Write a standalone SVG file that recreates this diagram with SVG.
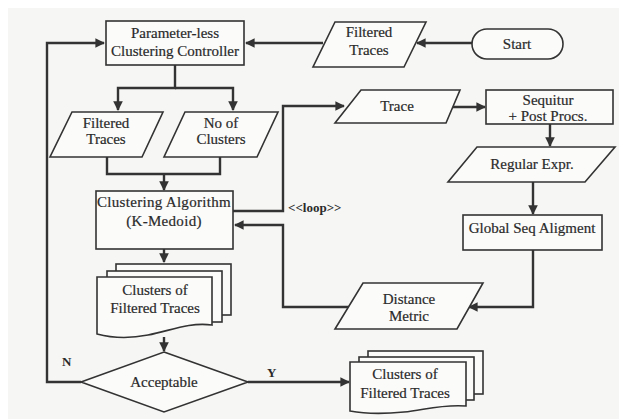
<svg xmlns="http://www.w3.org/2000/svg" width="619" height="419" viewBox="0 0 619 419">
<defs>
<marker id="ah" viewBox="0 0 10 10" refX="9" refY="5" markerWidth="4" markerHeight="4" orient="auto" markerUnits="strokeWidth">
<path d="M0,0 L10,5 L0,10 Z" fill="#333"/>
</marker>
<style>
.shape{fill:#fbfbfa;stroke:#333;stroke-width:1.6}
.conn{fill:none;stroke:#333;stroke-width:2.4}
.t{font-family:'Liberation Serif','DejaVu Serif',serif;font-size:15px;fill:#2a2a2a;stroke:#2a2a2a;stroke-width:0.2;text-anchor:middle}
.lbl{font-family:'Liberation Serif','DejaVu Serif',serif;font-size:13px;font-weight:bold;fill:#2a2a2a}
</style>
</defs>
<rect x="0" y="0" width="619" height="419" fill="#ffffff"/>
<rect x="8" y="8" width="611" height="411" fill="#f6f6f4"/>

<g id="connectors">
<path class="conn" d="M323,43 H246" marker-end="url(#ah)"/>
<path class="conn" d="M472,43 H417" marker-end="url(#ah)"/>
<path class="conn" d="M175,65 V88 H118 V110"  marker-end="url(#ah)"/>
<path class="conn" d="M175,88 H233 V110" marker-end="url(#ah)"/>
<path class="conn" d="M107,157 V174 H220 V157"/>
<path class="conn" d="M164,174 V190" marker-end="url(#ah)"/>
<path class="conn" d="M233,211 H283 V106 H344" marker-end="url(#ah)"/>
<path class="conn" d="M452,107 H485" marker-end="url(#ah)"/>
<path class="conn" d="M550,124 V146" marker-end="url(#ah)"/>
<path class="conn" d="M533,182 V214" marker-end="url(#ah)"/>
<path class="conn" d="M533,250 V307 H469" marker-end="url(#ah)"/>
<path class="conn" d="M350,307 H283 V225 H235" marker-end="url(#ah)"/>
<path class="conn" d="M164,249 V262" marker-end="url(#ah)"/>
<path class="conn" d="M164,337 V351" marker-end="url(#ah)"/>
<path class="conn" d="M81,382 H47 V43 H104" marker-end="url(#ah)"/>
<path class="conn" d="M248,382 H349" marker-end="url(#ah)"/>
<text class="lbl" x="288" y="212">&lt;&lt;loop&gt;&gt;</text>
<text class="lbl" x="62" y="366">N</text>
<text class="lbl" x="267" y="377">Y</text>
</g>

<g id="controller">
<rect class="shape" x="106" y="21" width="138" height="44"/>
<text class="t" x="175" y="38">Parameter-less</text>
<text class="t" x="175" y="56">Clustering Controller</text>
</g>

<g id="filtered-traces-top">
<polygon class="shape" points="335,22 426,22 404,67 313,67"/>
<text class="t" x="369" y="37">Filtered</text>
<text class="t" x="369" y="55">Traces</text>
</g>

<g id="start">
<rect class="shape" x="472" y="29" width="91" height="30" rx="15" ry="15"/>
<text class="t" x="517" y="49">Start</text>
</g>

<g id="filtered-traces">
<polygon class="shape" points="72,112 163,112 142,157 50,157"/>
<text class="t" x="106" y="128">Filtered</text>
<text class="t" x="106" y="144">Traces</text>
</g>

<g id="no-of-clusters">
<polygon class="shape" points="185,112 278,112 257,157 164,157"/>
<text class="t" x="221" y="128">No of</text>
<text class="t" x="221" y="144">Clusters</text>
</g>

<g id="clustering-algorithm">
<rect class="shape" x="96" y="191" width="137" height="58"/>
<text class="t" x="164" y="207" letter-spacing="0.3">Clustering Algorithm</text>
<text class="t" x="164" y="226" letter-spacing="0.3">(K-Medoid)</text>
</g>

<g id="trace">
<polygon class="shape" points="361,90 460,90 446,123 335,123"/>
<text class="t" x="397" y="111">Trace</text>
</g>

<g id="sequitur">
<rect class="shape" x="486" y="90" width="127" height="34"/>
<text class="t" x="548" y="105">Sequitur</text>
<text class="t" x="548" y="121">+ Post Procs.</text>
</g>

<g id="regular-expr">
<polygon class="shape" points="477,147 615,147 585,182 448,182"/>
<text class="t" x="532" y="169">Regular Expr.</text>
</g>

<g id="global-seq">
<rect class="shape" x="463" y="215" width="139" height="35"/>
<text class="t" x="532" y="233">Global Seq Aligment</text>
</g>

<g id="distance-metric">
<polygon class="shape" points="363,283 483,283 457,329 335,329"/>
<text class="t" x="409" y="304">Distance</text>
<text class="t" x="409" y="321">Metric</text>
</g>

<g id="clusters-left">
<rect class="shape" x="116" y="264" width="115" height="51"/>
<rect class="shape" x="107" y="271" width="115" height="51"/>
<path class="shape" d="M97,277 H212 V325 C188,322 170,331 148,335 C128,339 112,338 97,334 Z"/>
<text class="t" x="155" y="295">Clusters of</text>
<text class="t" x="155" y="313">Filtered Traces</text>
</g>

<g id="acceptable">
<polygon class="shape" points="164,352 248,382 164,412 81,382"/>
<text class="t" x="164" y="387">Acceptable</text>
</g>

<g id="clusters-right">
<rect class="shape" x="368" y="351" width="115" height="43"/>
<rect class="shape" x="359" y="357" width="115" height="43"/>
<path class="shape" d="M350,362 H466 V406 C442,404 424,410 404,412 C384,414 366,414 350,411 Z"/>
<text class="t" x="405" y="379">Clusters of</text>
<text class="t" x="405" y="398">Filtered Traces</text>
</g>
</svg>
